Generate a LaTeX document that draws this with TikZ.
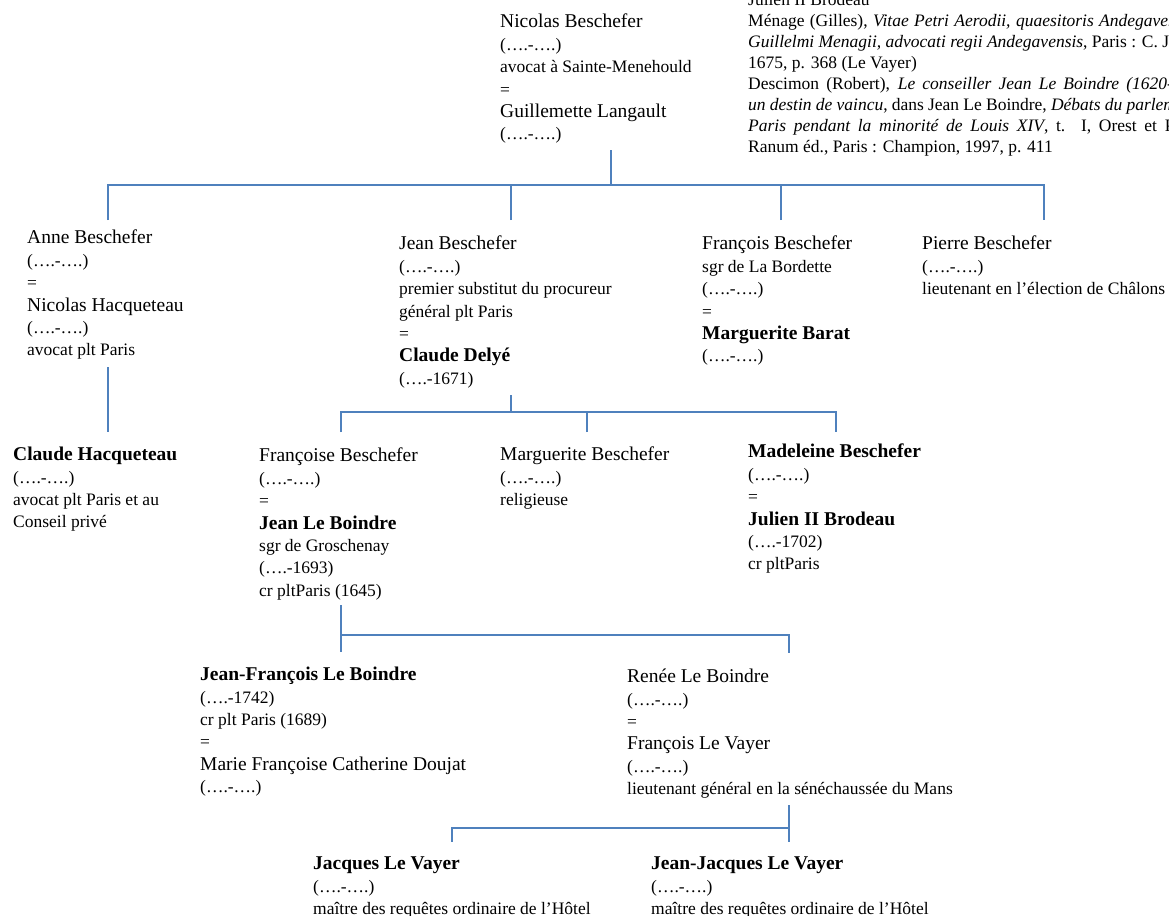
\documentclass[tikz,border=0pt]{standalone}
\usepackage{fontspec}
\setmainfont{Liberation Serif}
\definecolor{linkblue}{RGB}{79,129,189}
\newcommand{\who}[1]{{\fontsize{19.5}{22.4}\selectfont #1}}
\newcommand{\whob}[1]{{\fontsize{19.5}{22.4}\selectfont\bfseries #1}}
\tikzset{
	person/.style={anchor=north west, inner sep=0pt, align=left, font=\fontsize{17.5}{22.4}\selectfont},
	sources/.style={anchor=north west, inner sep=0pt, align=justify, text width=470pt, font=\fontsize{17.5}{21}\selectfont},
	tie/.style={draw=linkblue, line width=2pt},
}

\begin{document}
\begin{tikzpicture}[x=1pt, y=-1pt]
		\useasboundingbox (0,0) rectangle (1169,915);
		\clip (0,0) rectangle (1169,915);
		\fill[white] (0,0) rectangle (1169,915);
		% first generation
		\node[person] (nicolas) at (500,14) {\who{Nicolas Beschefer}\\(….-….)\\avocat à Sainte-Menehould\\=\\\who{Guillemette  Langault}\\(….-….)};
		\node[sources] (refs) at (748,-7) {Julien II Brodeau\\Ménage (Gilles), \textit{Vitae Petri Aerodii, quaesitoris Andegavensis, et}\linebreak \textit{Guillelmi Menagii, advocati regii Andegavensis}, Paris : C. Journel,\linebreak 1675, p. 368 (Le Vayer)\\Descimon (Robert), \textit{Le conseiller Jean Le Boindre (1620-1693),}\linebreak \textit{un destin de vaincu}, dans Jean Le Boindre, \textit{Débats du parlement de}\linebreak \textit{Paris pendant la minorité de Louis XIV}, t. I, Orest et Patricia\linebreak Ranum éd., Paris : Champion, 1997, p. 411};
		% children
		\node[person] (anne) at (27,230) {\who{Anne Beschefer}\\(….-….)\\=\\\who{Nicolas Hacqueteau}\\(….-….)\\avocat plt Paris};
		\node[person] (jean) at (399,236) {\who{Jean Beschefer}\\(….-….)\\premier substitut du procureur\\général plt Paris\\=\\\whob{Claude Delyé}\\(….-1671)};
		\node[person] (francois) at (702,236) {\who{François Beschefer}\\sgr de La Bordette\\(….-….)\\=\\\whob{Marguerite Barat}\\(….-….)};
		\node[person] (pierre) at (922,236) {\who{Pierre Beschefer}\\(….-….)\\lieutenant en l’élection de Châlons};
		% grandchildren
		\node[person] (claudeh) at (13,447) {\whob{Claude Hacqueteau}\\(….-….)\\avocat plt Paris et au\\Conseil privé};
		\node[person] (francoise) at (259,448) {\who{Françoise Beschefer}\\(….-….)\\=\\\whob{Jean Le Boindre}\\sgr de Groschenay\\(….-1693)\\cr pltParis (1645)};
		\node[person] (marguerite) at (500,447) {\who{Marguerite  Beschefer}\\(….-….)\\religieuse};
		\node[person] (madeleine) at (748,444) {\whob{Madeleine Beschefer}\\(….-….)\\=\\\whob{Julien II Brodeau}\\(….-1702)\\cr pltParis};
		% Le Boindre
		\node[person] (jeanfr) at (200,667) {\whob{Jean-François Le Boindre}\\(….-1742)\\cr plt Paris (1689)\\=\\\who{Marie  Françoise Catherine  Doujat}\\(….-….)};
		\node[person] (renee) at (627,669) {\who{Renée Le Boindre}\\(….-….)\\=\\\who{François Le Vayer}\\(….-….)\\lieutenant général en la sénéchaussée du Mans};
		% Le Vayer
		\node[person] (jacques) at (313,857) {\whob{Jacques Le Vayer}\\(….-….)\\maître des requêtes ordinaire de l’Hôtel};
		\node[person] (jeanjacques) at (651,857) {\whob{Jean-Jacques Le Vayer}\\(….-….)\\maître des requêtes ordinaire de l’Hôtel};
		% junctions
		\coordinate (nicolas-down) at (611,150);
		\coordinate (nicolas-bar) at (611,185);
		\coordinate (anne-up) at (108,220);
		\coordinate (jean-up) at (511,220);
		\coordinate (francois-up) at (781,220);
		\coordinate (pierre-up) at (1044,220);
		\coordinate (anne-down) at (108,367);
		\coordinate (claudeh-up) at (108,432);
		\coordinate (jean-down) at (511,395);
		\coordinate (jean-bar) at (511,412);
		\coordinate (francoise-up) at (341,432);
		\coordinate (marguerite-up) at (587,432);
		\coordinate (madeleine-up) at (836,432);
		\coordinate (francoise-down) at (341,605);
		\coordinate (francoise-bar) at (341,635);
		\coordinate (jeanfr-up) at (341,652);
		\coordinate (renee-up) at (789,653);
		\coordinate (renee-down) at (789,805);
		\coordinate (renee-bar) at (789,828);
		\coordinate (jacques-up) at (452,842);
		\coordinate (jeanjacques-up) at (789,842);
		% lines
		\draw[tie] (nicolas-down) -- (nicolas-bar);
		\draw[tie] (anne-up) -- (anne-up |- nicolas-bar) -- (pierre-up |- nicolas-bar) -- (pierre-up);
		\draw[tie] (jean-up) -- (jean-up |- nicolas-bar);
		\draw[tie] (francois-up) -- (francois-up |- nicolas-bar);
		\draw[tie] (anne-down) -- (claudeh-up);
		\draw[tie] (jean-down) -- (jean-bar);
		\draw[tie] (francoise-up) -- (francoise-up |- jean-bar) -- (madeleine-up |- jean-bar) -- (madeleine-up);
		\draw[tie] (marguerite-up) -- (marguerite-up |- jean-bar);
		\draw[tie] (francoise-down) -- (jeanfr-up);
		\draw[tie] (francoise-bar) -| (renee-up);
		\draw[tie] (renee-down) -- (jeanjacques-up);
		\draw[tie] (renee-bar) -| (jacques-up);
	\end{tikzpicture}
\end{document}
